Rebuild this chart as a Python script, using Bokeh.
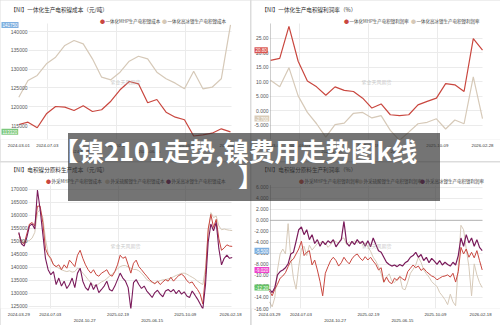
from bokeh.plotting import figure
from bokeh.models import Range1d, FixedTicker, Label, BoxAnnotation, Div
from bokeh.layouts import column, row
from bokeh.embed import file_html
from bokeh.resources import INLINE

FONT = "Noto Sans CJK SC"
NUMFONT = "Liberation Sans"
RED = "#c9473f"
BEIGE = "#d6c9b8"
PURPLE = "#7a1b5b"

# ---------------- data ----------------
top_tick_pos = [0, 3.1, 10.6, 18.1, 23]
top_tick_lab = ["2024-03-01", "2024-07-03", "2025-02-19", "2025-10-09", "2026-02-28"]
top_tick_pos_low = [6.7, 14.2]
top_tick_lab_low = ["2024-10-27", "2025-06-15"]

bot_tick_pos = [0, 11.8, 37.2, 62.4, 79.4]
bot_tick_lab = ["2024-03-29", "2024-07-03", "2025-02-19", "2025-10-09", "2026-02-18"]
bot_tick_pos_low = [24.7, 50]
bot_tick_lab_low = ["2024-10-27", "2025-06-15"]

# 一体化生产电积镍成本（元/吨）, monthly
tl_mhp = [115270, 115880, 114390, 118110, 120050, 119870, 118990, 120230, 118720, 119180,
          121460, 124490, 126700, 126090, 121040, 121910, 118540, 117210, 116520, 112200,
          112500, 112950, 114120, 113320]
tl_hmatte = [122530, 126970, 128300, 131400, 133170, 136280, 137600, 136720, 132730, 127850,
             127150, 129180, 132100, 133430, 132730, 129180, 127420, 126260, 124760, 129440,
             124760, 125190, 127420, 141750]

# 一体化生产电积镍利润率（%）, monthly
tr_mhp = [17.3, 18.0, 29.0, 17.0, 10.2, 8.2, 5.3, 8.2, 7.0, 6.6, 4.3, 0.9, 2.3, -1.4, -1.7,
          -1.4, 2.0, 3.2, 4.3, 9.3, 8.9, 6.6, 24.8, 20.8]
tr_hmatte = [10.5, 8.2, 14.8, 5.1, -0.6, -4.5, -9.1, -4.8, -4.3, -0.9, -0.6, -2.5, -1.7, -6.8,
             -10.2, -7.4, -4.5, -4.0, -2.8, -6.3, -3.2, -4.5, 11.6, -2.7]

# 电积镍分原料生产成本（千元/吨）, weekly samples
bl_mhp = [153.0, 149.7, 149.0, 152.8, 156.6, 157.2, 155.9, 163.5, 163.5, 157.2,
          147.1, 144.6, 143.4, 140.9, 140.2, 140.9, 139.0, 140.9, 139.6, 142.7,
          141.5, 140.2, 144.6, 146.5, 143.4, 140.9, 139.0, 137.7, 139.0, 137.1,
          136.5, 137.7, 138.3, 139.0, 137.1, 136.5, 138.3, 140.9, 144.6, 143.4,
          144.0, 140.9, 137.7, 141.5, 142.7, 140.2, 139.0, 137.7, 136.5, 135.2,
          134.3, 133.6, 134.6, 133.3, 134.3, 135.2, 134.6, 136.1, 134.6, 135.8,
          136.8, 137.3, 136.5, 134.8, 133.9, 134.3, 132.7, 131.4, 129.6, 125.8,
          137.1, 154.7, 160.3, 155.3, 158.4, 150.9, 146.5, 147.4, 148.6, 148.1, 148.0]
bl_sulfate = [151.5, 150.3, 149.9, 149.9, 150.3, 151.2, 153.4, 161.0, 162.2, 159.1,
              150.9, 145.3, 142.7, 141.1, 140.2, 139.6, 139.0, 138.6, 138.3, 138.6,
              138.1, 138.3, 139.6, 139.0, 137.7, 136.5, 135.2, 134.0, 133.1, 132.7,
              133.6, 134.3, 134.8, 135.6, 136.5, 137.3, 138.3, 139.4, 140.2, 140.6,
              140.6, 140.1, 139.6, 139.1, 139.1, 138.6, 137.7, 136.5, 135.2, 134.6,
              134.1, 133.9, 134.3, 134.8, 135.1, 135.2, 135.5, 135.8, 136.3, 136.8,
              137.2, 137.6, 137.7, 137.3, 136.7, 136.1, 135.5, 134.6, 133.9, 133.3,
              139.6, 153.4, 161.0, 159.1, 159.7, 155.9, 154.4, 154.7, 154.4, 154.2, 154.1]
bl_hmatte = [153.4, 149.0, 148.1, 151.5, 155.9, 156.6, 154.7, 169.7, 162.2, 152.8,
             143.4, 139.0, 137.1, 138.3, 133.3, 135.8, 132.7, 134.6, 131.8, 133.3,
             135.8, 132.1, 137.7, 139.6, 134.6, 132.1, 131.1, 134.0, 131.4, 133.3,
             130.2, 131.4, 132.7, 134.6, 131.4, 130.8, 132.7, 135.2, 137.7, 135.8,
             134.6, 132.1, 123.9, 134.0, 135.2, 133.3, 131.8, 132.7, 130.8, 129.6,
             128.3, 130.2, 131.1, 129.6, 128.6, 130.8, 131.4, 130.5, 131.4, 129.8,
             131.1, 129.6, 130.5, 128.9, 128.3, 130.8, 129.3, 127.7, 125.8, 123.9,
             133.3, 149.7, 156.6, 154.0, 157.2, 147.1, 140.9, 143.4, 144.6, 143.4, 143.7]

# 电积镍分原料生产利润率（%）, weekly samples
br_mhp = [-12.8, -13.7, -12.5, -11.6, -10.5, -10.1, -9.5, -8.4, -7.4, -7.0,
          -6.1, -5.2, -3.8, -6.4, -5.8, -5.5, -8.1, -7.2, -9.0, -11.1,
          -13.7, -9.6, -8.4, -7.3, -6.7, -7.3, -8.3, -7.7, -6.7, -7.4,
          -7.9, -7.0, -6.4, -6.1, -6.8, -7.3, -6.6, -7.2, -6.7, -7.4,
          -8.0, -9.0, -8.6, -11.2, -10.3, -11.2, -11.5, -10.5, -10.9, -10.2,
          -10.6, -10.9, -9.3, -8.7, -8.1, -8.6, -8.3, -9.1, -8.7, -9.3,
          -9.7, -10.1, -10.3, -10.8, -10.5, -10.2, -10.1, -9.9, -10.3, -9.6,
          -11.2, -9.3, -4.9, -6.1, -5.2, -6.7, -5.8, -6.8, -5.5, -7.3, -9.0]
br_sulfate = [-14.8, -15.7, -14.0, -9.0, -6.1, -5.2, -6.1, -0.6, -6.7, -10.5,
              -12.5, -8.4, -5.2, -4.7, -6.4, -4.5, -5.4, -4.8, -4.2, -4.1,
              -3.8, -4.1, -4.9, -4.4, -3.7, -3.9, -4.1, -3.3, -3.2, -4.4,
              -3.9, -4.2, -3.7, -4.1, -3.8, -4.4, -4.1, -4.8, -5.6, -6.7,
              -7.4, -8.4, -9.7, -11.3, -10.3, -9.7, -11.0, -11.3, -10.6, -10.2,
              -12.4, -12.6, -11.2, -9.6, -8.9, -8.1, -6.7, -7.6, -9.0, -9.7,
              -10.3, -11.1, -11.6, -12.0, -13.1, -13.7, -14.4, -15.3, -13.4, -14.8,
              -15.5, -8.4, -0.9, -1.7, -5.2, -8.4, -13.7, -7.9, -9.9, -11.3, -12.2]
br_hmatte = [-12.5, -13.1, -12.2, -9.9, -9.3, -9.0, -8.6, -7.9, -6.1, -5.8,
             -3.8, -1.7, -1.2, -2.6, -1.7, -3.5, -2.6, -4.2, -3.5, -4.7,
             -3.8, -4.4, -3.7, -4.1, -3.5, -4.8, -4.1, -3.5, -0.2, -4.1,
             -4.7, -3.8, -4.4, -3.5, -4.2, -3.8, -4.7, -3.7, -4.8, -3.2,
             -4.4, -5.5, -5.8, -6.7, -7.6, -8.0, -8.3, -8.1, -8.4, -8.0,
             -8.3, -7.7, -7.4, -6.7, -6.4, -5.8, -6.7, -6.2, -7.3, -6.7,
             -7.7, -6.9, -7.4, -8.0, -7.3, -8.1, -7.6, -8.0, -8.3, -7.6,
             -8.1, -6.4, -3.2, -4.7, -2.6, -4.1, -3.2, -4.7, -3.5, -4.9, -5.5]

tl_yticks = [115000, 120000, 125000, 130000, 135000, 140000]
tl_ylabels = ["115000", "120000", "125000", "130000", "135000", "140000"]
tr_yticks = [-5, 0, 5, 10, 15, 20, 25]
tr_ylabels = ["-5.000", "0.000", "5.000", "10.00", "15.00", "20.00", "25.00"]
bl_yticks = [125, 130, 135, 140, 145, 150, 155, 160, 165, 170]
bl_ylabels = ["125000", "130000", "135000", "140000", "145000", "150000", "155000",
              "160000", "165000", "170000"]
br_yticks = [-16, -14, -12, -10, -8, -6, -4, -2, 0, 2, 4, 6]
br_ylabels = ["-16.00", "-14.00", "-12.00", "-10.00", "-8.000", "-6.000", "-4.000",
              "-2.000", "0.000", "2.000", "4.000", "6.000"]


def lin(a, b, px):
    (v0, q0), (v1, q1) = a, b
    return v0 + (px - q0) * (v1 - v0) / (q1 - q0)


def make_panel(w, h, fb, xcal, ycal, plot_top, yticks, ylabels, ylab_right, title, ty,
               legend, ly, lines, xpos, xlab, xpos_low, xlab_low, tags,
               axis_line=False, zero=False):
    # frame covers the whole panel except the x-axis strip at the bottom
    x0, x1 = lin(*xcal, 0), lin(*xcal, w)
    y_bot, y_top = lin(*ycal, fb), lin(*ycal, 0)
    p = figure(width=w, height=h, x_range=Range1d(x0, x1), y_range=Range1d(y_bot, y_top),
               output_backend="svg", toolbar_location=None,
               min_border_left=0, min_border_right=0, min_border_top=0,
               min_border_bottom=h - fb)
    p.outline_line_color = None
    p.border_fill_color = "white"
    p.background_fill_color = "white"

    plot_r = lin(*xcal, 231)
    y_plot_top = lin(*ycal, plot_top)
    p.ygrid.ticker = FixedTicker(ticks=yticks)
    p.ygrid.grid_line_color = "#ebebeb"
    p.xgrid.ticker = FixedTicker(ticks=xpos[1:-1])
    p.xgrid.grid_line_color = "#ebebeb"
    g = p.xgrid[0]
    if "cross_bounds" in g.properties():
        p.xgrid.cross_bounds = (y_bot, y_plot_top)
        p.ygrid.cross_bounds = (lin(*xcal, ylab_right + 1), plot_r)

    ya = p.yaxis[0]
    ya.ticker = FixedTicker(ticks=yticks)
    ya.major_label_overrides = dict(zip(yticks, ylabels))
    ya.major_label_text_font = NUMFONT
    ya.major_label_text_font_size = "5px"
    ya.major_label_text_color = "#555555"
    ya.major_tick_out = 0
    ya.major_tick_in = 0
    ya.major_label_standoff = -ylab_right
    ya.major_tick_line_color = None
    ya.minor_tick_line_color = None
    ya.axis_line_color = None

    xa = p.xaxis[0]
    ticks = list(xpos) + list(xpos_low)
    labs = list(xlab) + ["\n" + s for s in xlab_low]
    xa.ticker = FixedTicker(ticks=ticks)
    xa.major_label_overrides = dict(zip(ticks, labs))
    xa.major_label_text_font = NUMFONT
    xa.major_label_text_font_size = "4.3px"
    xa.major_label_text_color = "#333333"
    xa.major_tick_out = 0
    xa.major_tick_in = 0
    xa.major_label_standoff = 3
    xa.major_tick_line_color = None
    xa.minor_tick_line_color = None
    xa.axis_line_color = None

    if axis_line:
        xl = lin(*xcal, 19)
        p.add_layout(BoxAnnotation(left=xl, right=xl, bottom=y_bot, top=y_plot_top,
                                   fill_alpha=0, line_color="#a0a0a0", line_width=1))
    if zero:
        p.add_layout(BoxAnnotation(left=lin(*xcal, 19), right=plot_r, bottom=0, top=0,
                                   fill_alpha=0, line_color="#555555", line_width=1.2))

    for ys, color, lw in lines:
        p.line(list(range(len(ys))), ys, line_color=color, line_width=lw)

    def txt(px, py, text, size, color, align="left", alpha=1.0):
        p.add_layout(Label(x=px, y=fb - py, x_units="screen", y_units="screen",
                           text=text, text_font=FONT, text_font_size=f"{size}px",
                           text_color=color, text_align=align, text_baseline="middle",
                           text_alpha=alpha))

    txt(10, ty, title, 5.6, "#333333")
    txt(125, (plot_top + fb) / 2, "紫金天风期货", 5, "#b0b0b0", align="center", alpha=0.7)
    for lx, name, color in legend:
        txt(lx, ly, "●", 5, color, align="center")
        txt(lx + 3, ly, name, 4.5, "#444444")

    for px, val, text, bg, fg in tags:
        p.add_layout(Label(x=px, y=val, x_units="screen", y_units="data", text=text,
                           text_font=NUMFONT, text_font_size="4.5px", text_color=fg,
                           text_align="left", text_baseline="middle",
                           background_fill_color=bg, padding=1))
    return p


tl = make_panel(250, 161, 139, ((0, 18.3), (23, 230)), ((140000, 31), (115000, 125)), 23,
                tl_yticks, tl_ylabels, 27,
                "【NI】一体化生产电积镍成本（元/吨）", 9,
                [(102, "一体化MHP生产电积镍成本", RED), (164, "一体化高冰镍生产电积镍成本", BEIGE)], 20,
                [(tl_hmatte, BEIGE, 1.2), (tl_mhp, RED, 1.2)],
                top_tick_pos, top_tick_lab, top_tick_pos_low, top_tick_lab_low,
                [(1, 141750, "141750", "#7fb0e0", "#ffffff"), (1, 113320, "113320", "#7cc87c", "#ffffff")])

tr = make_panel(249, 161, 139, ((0, 19), (23, 231)), ((25, 37.5), (-5, 124.7)), 23,
                tr_yticks, tr_ylabels, 17,
                "【NI】一体化生产电积镍利润率（%）", 9,
                [(95, "一体化MHP生产电积镍利润率", RED), (162, "一体化高冰镍生产电积镍利润率", BEIGE)], 20,
                [(tr_hmatte, BEIGE, 1.2), (tr_mhp, RED, 1.2)],
                top_tick_pos, top_tick_lab, top_tick_pos_low, top_tick_lab_low,
                [(3, 20.8, "20.80", "#d9534f", "#ffffff"), (3, -2.7, "-2.700", "#d9ccb8", "#ffffff")],
                axis_line=True)

bl = make_panel(250, 163, 149, ((0, 18.3), (80, 231.7)), ((170, 27.3), (130, 133.3)), 23,
                bl_yticks, bl_ylabels, 27,
                "【NI】电积镍分原料生产成本（元/吨）", 10,
                [(48, "外采MHP生产电积镍成本", RED), (107, "外采硫酸镍生产电积镍成本", BEIGE),
                 (168, "外采高冰镍生产电积镍成本", PURPLE)], 21,
                [(bl_sulfate, BEIGE, 1.0), (bl_mhp, RED, 1.0), (bl_hmatte, PURPLE, 1.1)],
                bot_tick_pos, bot_tick_lab, bot_tick_pos_low, bot_tick_lab_low, [])

br = make_panel(249, 163, 149, ((0, 18), (80, 230.7)), ((6, 25.3), (-16, 149)), 23,
                br_yticks, br_ylabels, 17,
                "【NI】电积镍分原料生产利润率（%）", 10,
                [(50, "外采MHP生产电积镍利润率", RED), (109, "外采硫酸镍生产电积镍利润率", BEIGE),
                 (171, "外采高冰镍生产电积镍利润率", PURPLE)], 21,
                [(br_sulfate, BEIGE, 1.0), (br_mhp, RED, 1.0), (br_hmatte, PURPLE, 1.2)],
                bot_tick_pos, bot_tick_lab, bot_tick_pos_low, bot_tick_lab_low,
                [(3, -5.5, "-5.500", "#7fb0e0", "#ffffff"), (3, -9.02, "-9.020", "#ee44cc", "#ffffff"),
                 (3, -12.2, "-12.20", "#66c466", "#ffffff")],
                axis_line=True, zero=True)

banner_html = (
    '<div style="position:relative;width:372px;height:68px;background:rgba(50,50,50,0.68);">'
    '<div style="position:absolute;left:-15px;top:4px;line-height:26px;white-space:nowrap;'
    "font-family:'Noto Sans CJK SC';font-weight:bold;font-size:25.5px;color:#ffffff;\">"
    '【镍2101走势,镍费用走势图k线<br><span style="margin-left:185px;">】</span></div></div>'
)
banner = Div(text=banner_html, width=372, height=68,
             styles={"position": "absolute", "left": "63px", "top": "128px", "z-index": "10"})

layout = column(row(tl, tr, spacing=1), row(bl, br, spacing=1), banner, spacing=1,
                styles={"background-color": "#dcdcdc"})
open("out.html", "w").write(file_html(layout, INLINE))
